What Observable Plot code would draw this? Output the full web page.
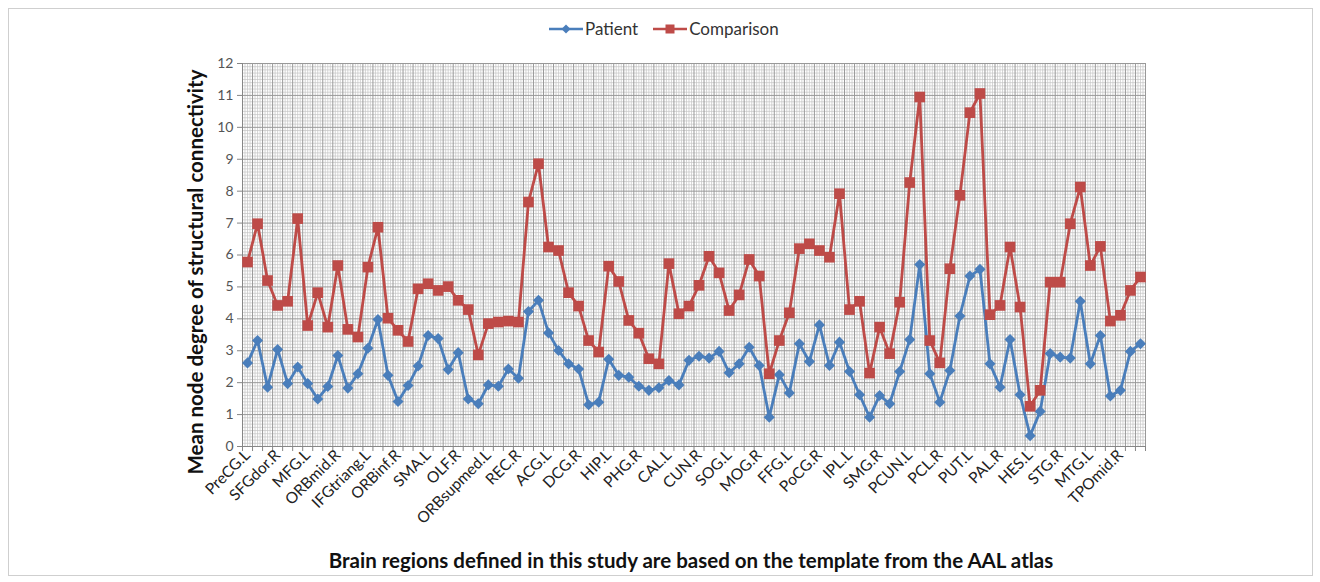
<!DOCTYPE html>
<html>
<head>
<meta charset="utf-8">
<script src="https://cdn.jsdelivr.net/npm/d3@7"></script>
<script src="https://cdn.jsdelivr.net/npm/@observablehq/plot@0.6"></script>
<style>
  html, body { margin: 0; padding: 0; background: #fff; }
  #wrap { position: relative; width: 1320px; height: 582px; font-family: Lato, "Open Sans", sans-serif; }
  #frame { position: absolute; left: 8px; top: 8px; width: 1303px; height: 566px; border: 1px solid #cfcfcf; pointer-events: none; }
  #legend { position: absolute; top: 18px; left: 548px; display: flex; align-items: center; font-size: 17px; color: #333; }
  #legend .item { display: flex; align-items: center; margin-right: 14px; }
</style>
</head>
<body>
<div id="wrap">
  <div id="frame"></div>
  <div id="chart"></div>
  <div id="legend"></div>
</div>
<script>
// AAL regions (categories), in chart order
const regions = ["PreCG.L","PreCG.R","SFGdor.L","SFGdor.R","ORBsup.L","ORBsup.R","MFG.L","MFG.R","ORBmid.L","ORBmid.R",
  "IFGoperc.L","IFGoperc.R","IFGtriang.L","IFGtriang.R","ORBinf.L","ORBinf.R","ROL.L","ROL.R","SMA.L","SMA.R",
  "OLF.L","OLF.R","SFGmed.L","SFGmed.R","ORBsupmed.L","ORBsupmed.R","REC.L","REC.R","INS.L","INS.R",
  "ACG.L","ACG.R","DCG.L","DCG.R","PCG.L","PCG.R","HIP.L","HIP.R","PHG.L","PHG.R",
  "AMYG.L","AMYG.R","CAL.L","CAL.R","CUN.L","CUN.R","LING.L","LING.R","SOG.L","SOG.R",
  "MOG.L","MOG.R","IOG.L","IOG.R","FFG.L","FFG.R","PoCG.L","PoCG.R","SPG.L","SPG.R",
  "IPL.L","IPL.R","SMG.L","SMG.R","ANG.L","ANG.R","PCUN.L","PCUN.R","PCL.L","PCL.R",
  "CAU.L","CAU.R","PUT.L","PUT.R","PAL.L","PAL.R","THA.L","THA.R","HES.L","HES.R",
  "STG.L","STG.R","TPOsup.L","TPOsup.R","MTG.L","MTG.R","TPOmid.L","TPOmid.R","ITG.L","ITG.R"];

// Tick labels shown on the x axis
const tickLabels = ["PreCG.L","SFGdor.R","MFG.L","ORBmid.R","IFGtriang.L","ORBinf.R","SMA.L","OLF.R","ORBsupmed.L","REC.R",
  "ACG.L","DCG.R","HIP.L","PHG.R","CAL.L","CUN.R","SOG.L","MOG.R","FFG.L","PoCG.R",
  "IPL.L","SMG.R","PCUN.L","PCL.R","PUT.L","PAL.R","HES.L","STG.R","MTG.L","TPOmid.R"];

const patient = [2.62,3.32,1.86,3.04,1.97,2.49,1.97,1.49,1.88,2.85,
  1.83,2.28,3.08,3.98,2.23,1.41,1.91,2.52,3.48,3.38,
  2.41,2.94,1.49,1.34,1.93,1.89,2.43,2.14,4.23,4.58,
  3.56,3.01,2.59,2.43,1.31,1.39,2.73,2.23,2.17,1.89,
  1.76,1.84,2.07,1.93,2.70,2.83,2.77,2.98,2.31,2.59,
  3.11,2.54,0.92,2.25,1.68,3.22,2.66,3.81,2.54,3.27,
  2.35,1.62,0.92,1.60,1.34,2.35,3.35,5.70,2.28,1.39,
  2.38,4.09,5.34,5.55,2.59,1.86,3.35,1.62,0.34,1.10,
  2.91,2.80,2.77,4.55,2.59,3.48,1.58,1.76,2.98,3.22];

const comparison = [5.78,6.98,5.20,4.42,4.55,7.14,3.79,4.82,3.74,5.67,
  3.67,3.43,5.62,6.87,4.02,3.64,3.29,4.94,5.10,4.89,
  5.01,4.58,4.29,2.87,3.85,3.90,3.93,3.90,7.66,8.86,
  6.25,6.14,4.82,4.40,3.32,2.96,5.65,5.17,3.95,3.55,
  2.75,2.59,5.73,4.16,4.40,5.05,5.96,5.44,4.26,4.75,
  5.86,5.34,2.28,3.32,4.19,6.20,6.35,6.14,5.93,7.92,
  4.29,4.55,2.30,3.74,2.91,4.52,8.27,10.95,3.32,2.62,
  5.57,7.87,10.46,11.06,4.13,4.42,6.25,4.37,1.26,1.76,
  5.15,5.15,6.98,8.13,5.67,6.27,3.93,4.11,4.89,5.31];

const yTicks = [0,1,2,3,4,5,6,7,8,9,10,11,12];
const seriesNames = ["Patient", "Comparison"];
const colors = ["#4A7EBB", "#BE4B48"];

const rows = regions.map((r, i) => ({i: i + 1, region: r, patient: patient[i], comparison: comparison[i]}));
const tickIdx = tickLabels.map(l => regions.indexOf(l) + 1);
const bounds = d3.range(0, regions.length + 1).map(k => k + 0.5);
const minorX = d3.range(0, regions.length * 4 + 1).map(k => 0.5 + k / 4).filter(v => !Number.isInteger(v - 0.5));
const minorY = d3.range(0, 121).map(k => Math.round(k) / 10).filter(v => !Number.isInteger(v));

const chart = Plot.plot({
  width: 1320,
  height: 582,
  marginLeft: 242,
  marginRight: 175,
  marginTop: 63,
  marginBottom: 136,
  style: {fontFamily: "Lato, 'Open Sans', sans-serif", background: "transparent", overflow: "visible"},
  x: {domain: [0.5, regions.length + 0.5], axis: null},
  y: {domain: [0, 12], axis: null},
  marks: [
    Plot.gridY({ticks: minorY, stroke: "#c4c4c4", strokeOpacity: 1, strokeWidth: 0.7}),
    Plot.gridX({ticks: minorX, stroke: "#c4c4c4", strokeOpacity: 1, strokeWidth: 0.7}),
    Plot.gridY({ticks: yTicks, stroke: "#999", strokeOpacity: 1, strokeWidth: 1}),
    Plot.gridX({ticks: bounds, stroke: "#999", strokeOpacity: 1, strokeWidth: 1}),
    Plot.ruleX([0.5], {stroke: "#868686", strokeWidth: 1}),
    Plot.ruleY([0], {stroke: "#868686", strokeWidth: 1}),
    Plot.axisY({ticks: yTicks, tickSize: 5, tickPadding: 4, fontSize: 14, color: "#555", stroke: "#868686", label: null}),
    Plot.axisX({ticks: bounds, tickSize: 5, tickFormat: () => "", stroke: "#868686", label: null}),
    Plot.axisX({ticks: tickIdx, tickSize: 0, tickFormat: i => regions[i - 1], tickRotate: -45, tickPadding: 6,
      fontSize: 15.5, color: "#222", label: null}),
    Plot.line(rows, {x: "i", y: "patient", stroke: colors[0], strokeWidth: 2.8}),
    Plot.line(rows, {x: "i", y: "comparison", stroke: colors[1], strokeWidth: 2.8}),
    Plot.dot(rows, {x: "i", y: "patient", symbol: "diamond2", r: 5, fill: colors[0], stroke: "none"}),
    Plot.dot(rows, {x: "i", y: "comparison", symbol: "square", r: 6, fill: colors[1], stroke: "none"}),
    Plot.text(["Mean node degree of structural connectivity"], {frameAnchor: "left", rotate: -90, dx: -46, dy: 17,
      textAnchor: "middle", lineAnchor: "middle", fontSize: 20.5, fontWeight: "bold", fill: "#111"}),
    Plot.text(["Brain regions defined in this study are based on the template from the AAL atlas"], {frameAnchor: "bottom",
      dy: 115, dx: -3, textAnchor: "middle", lineAnchor: "middle", fontSize: 20.5, fontWeight: "bold", fill: "#111"})
  ]
});
document.getElementById("chart").appendChild(chart);

// legend
const legend = d3.select("#legend");
seriesNames.forEach((name, k) => {
  const item = legend.append("div").attr("class", "item");
  const svg = item.append("svg").attr("width", 36).attr("height", 14);
  svg.append("line").attr("x1", 1).attr("x2", 35).attr("y1", 7).attr("y2", 7)
    .attr("stroke", colors[k]).attr("stroke-width", 2.6);
  if (k === 0) {
    svg.append("path").attr("d", "M18,2.5L22.5,7L18,11.5L13.5,7Z").attr("fill", colors[k]);
  } else {
    svg.append("rect").attr("x", 13.5).attr("y", 2.5).attr("width", 9).attr("height", 9).attr("fill", colors[k]);
  }
  item.append("span").text(name).style("margin-left", "1px");
});
</script>
</body>
</html>
